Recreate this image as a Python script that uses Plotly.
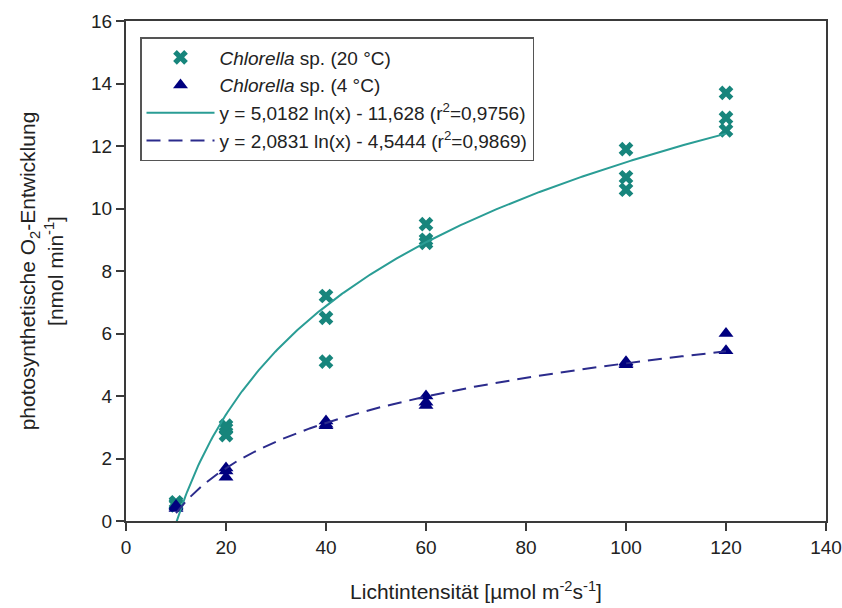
import numpy as np
import plotly.graph_objects as go

# data
x_20 = [10, 10, 10, 20, 20, 20, 40, 40, 40, 60, 60, 60, 100, 100, 100, 120, 120, 120]
y_20 = [0.6, 0.5, 0.55, 3.05, 2.95, 2.75, 7.2, 6.5, 5.1, 9.5, 9.0, 8.9, 11.9, 11.0, 10.6, 13.7, 12.9, 12.5]
x_4 = [10, 10, 10, 20, 20, 20, 40, 40, 40, 60, 60, 60, 100, 100, 100, 120, 120]
y_4 = [0.45, 0.5, 0.4, 1.7, 1.6, 1.4, 3.2, 3.1, 3.05, 4.0, 3.8, 3.7, 5.1, 5.05, 5.0, 6.0, 5.45]
fit_20 = (5.0182, -11.628)
fit_4 = (2.0831, -4.5444)
fit_range = (10, 120)
x_ticks = [0, 20, 40, 60, 80, 100, 120, 140]
y_ticks = [0, 2, 4, 6, 8, 10, 12, 14, 16]

teal_m = "#17857c"
teal_l = "#2a9d95"
navy = "#00007f"
navy_l = "#2b2b8c"

xf = np.linspace(fit_range[0], fit_range[1], 300)

fig = go.Figure()
fig.add_trace(go.Scatter(
    x=x_20, y=y_20, mode="markers", name="<i>Chlorella</i> sp. (20 °C)",
    marker=dict(symbol="x", size=13, color=teal_m, line=dict(width=0))))
fig.add_trace(go.Scatter(
    x=x_4, y=y_4, mode="markers", name="<i>Chlorella</i> sp. (4 °C)",
    marker=dict(symbol="triangle-up", size=13, color=navy, line=dict(width=0))))
fig.add_trace(go.Scatter(
    x=xf, y=fit_20[0] * np.log(xf) + fit_20[1], mode="lines",
    name="y = 5,0182 ln(x) - 11,628 (r<sup>2</sup>=0,9756)",
    line=dict(color=teal_l, width=2)))
fig.add_trace(go.Scatter(
    x=xf, y=fit_4[0] * np.log(xf) + fit_4[1], mode="lines",
    name="y = 2,0831 ln(x) - 4,5444 (r<sup>2</sup>=0,9869)",
    line=dict(color=navy_l, width=2, dash="14px,8px")))

axis_common = dict(
    showline=True, linecolor="#3a3a3a", linewidth=2, mirror=True,
    ticks="outside", ticklen=8, tickwidth=1.5, tickcolor="#3a3a3a",
    showgrid=False, zeroline=False, automargin=False,
    tickfont=dict(family="Liberation Sans, Arial", size=19, color="#222"),
)

fig.update_layout(
    width=842, height=608,
    margin=dict(l=126, r=16, t=21, b=87),
    paper_bgcolor="white", plot_bgcolor="white",
    font=dict(family="Liberation Sans, Arial", color="#222"),
    xaxis=dict(range=[0, 140], tickvals=x_ticks,
               title=dict(text="Lichtintensität [µmol m<sup>-2</sup>s<sup>-1</sup>]",
                          font=dict(size=21), standoff=28),
               **axis_common),
    yaxis=dict(range=[0, 16], tickvals=y_ticks,
               title=dict(text="photosynthetische O<sub>2</sub>-Entwicklung<br>[nmol min<sup>-1</sup>]",
                          font=dict(size=21), standoff=22),
               **axis_common),
    legend=dict(x=0.02, y=0.968, xanchor="left", yanchor="top",
                bgcolor="white", bordercolor="#555", borderwidth=1.5,
                font=dict(size=19, color="#222"), tracegroupgap=0,
                itemwidth=68),
    showlegend=True,
)

fig.write_html("out.html")
